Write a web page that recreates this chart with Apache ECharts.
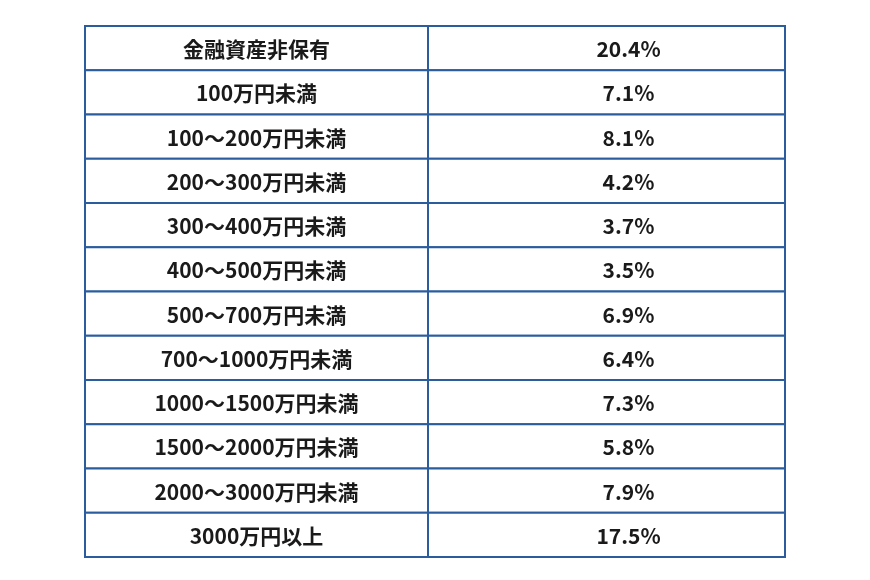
<!DOCTYPE html>
<html><head><meta charset="utf-8">
<script src="https://cdn.jsdelivr.net/npm/echarts@6/dist/echarts.min.js"></script>
<style>html,body{margin:0;padding:0;background:#fff}#c{width:870px;height:580px}</style>
</head><body><div id="c"></div>
<script>
const categories = ['金融資産非保有','100万円未満','100～200万円未満','200～300万円未満','300～400万円未満','400～500万円未満','500～700万円未満','700～1000万円未満','1000～1500万円未満','1500～2000万円未満','2000～3000万円未満','3000万円以上'];
const values = [20.4,7.1,8.1,4.2,3.7,3.5,6.9,6.4,7.3,5.8,7.9,17.5];
const colStart = [0,343];
const colEnd = [343,700];
const data = [];
categories.forEach((c,i)=>{ data.push([0,i,c]); data.push([1,i,values[i].toFixed(1)+'%']); });
const chart = echarts.init(document.getElementById('c'));
chart.setOption({
  animation:false,
  grid:{left:85,right:85,top:26,bottom:23},
  xAxis:{type:'value',min:0,max:700,show:false},
  yAxis:{type:'category',data:categories,inverse:true,show:false},
  series:[{
    type:'custom',
    data:data,
    renderItem:function(params,api){
      const col=api.value(0);
      const a=api.coord([colStart[col],api.value(1)]);
      const b=api.coord([colEnd[col],api.value(1)]);
      const h=api.size([0,1])[1];
      const cx = col===0 ? (a[0]+b[0])/2 : (a[0]+b[0])/2+22;
      return {type:'group',children:[
        {type:'rect',shape:{x:a[0],y:a[1]-h/2,width:b[0]-a[0],height:h},
         style:{fill:'#fff',stroke:'#2b5c9e',lineWidth:2}},
        {type:'text',x:cx,y:a[1]+1,style:{text:api.value(2),align:'center',verticalAlign:'middle',
         font:'bold 21px "Noto Sans CJK JP"',fill:'#1a1a1a'}}
      ]};
    }
  }]
});
</script></body></html>
